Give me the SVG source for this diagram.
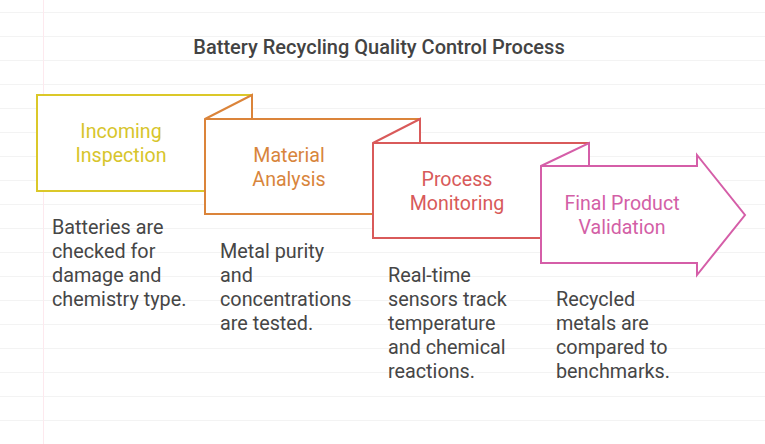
<svg xmlns="http://www.w3.org/2000/svg" width="765" height="444" viewBox="0 0 765 444">
<style>
.bg{stroke:#f3f3f3;stroke-width:1}
.shape{fill:#ffffff;stroke-width:2;stroke-linejoin:miter}
.lbl{font-family:Roboto,"Liberation Sans",sans-serif;font-size:19.6px;text-anchor:middle}
.desc{font-family:Roboto,"Liberation Sans",sans-serif;font-size:19.8px;fill:#464646}
.title{font-family:Roboto,"Liberation Sans",sans-serif;font-size:20px;font-weight:500;fill:#434343;text-anchor:middle}
</style>
<rect x="0" y="0" width="765" height="444" fill="#ffffff"/>
<g id="background">
<line class="bg" x1="0" y1="12.5" x2="765" y2="12.5"/>
<line class="bg" x1="0" y1="36.5" x2="765" y2="36.5"/>
<line class="bg" x1="0" y1="60.5" x2="765" y2="60.5"/>
<line class="bg" x1="0" y1="84.5" x2="765" y2="84.5"/>
<line class="bg" x1="0" y1="108.5" x2="765" y2="108.5"/>
<line class="bg" x1="0" y1="132.5" x2="765" y2="132.5"/>
<line class="bg" x1="0" y1="156.5" x2="765" y2="156.5"/>
<line class="bg" x1="0" y1="180.5" x2="765" y2="180.5"/>
<line class="bg" x1="0" y1="204.5" x2="765" y2="204.5"/>
<line class="bg" x1="0" y1="228.5" x2="765" y2="228.5"/>
<line class="bg" x1="0" y1="252.5" x2="765" y2="252.5"/>
<line class="bg" x1="0" y1="276.5" x2="765" y2="276.5"/>
<line class="bg" x1="0" y1="300.5" x2="765" y2="300.5"/>
<line class="bg" x1="0" y1="324.5" x2="765" y2="324.5"/>
<line class="bg" x1="0" y1="348.5" x2="765" y2="348.5"/>
<line class="bg" x1="0" y1="372.5" x2="765" y2="372.5"/>
<line class="bg" x1="0" y1="396.5" x2="765" y2="396.5"/>
<line class="bg" x1="0" y1="420.5" x2="765" y2="420.5"/>
<line x1="43.5" y1="0" x2="43.5" y2="444" stroke="#fde9ee" stroke-width="1"/>
</g>
<text class="title" x="379" y="54">Battery Recycling Quality Control Process</text>
<g id="connectors"></g>
<g id="step1">
<rect class="shape" x="37" y="95" width="215" height="96" stroke="#dbc829"/>
<text class="lbl" fill="#d7c52c"><tspan x="121" y="138">Incoming</tspan><tspan x="121" y="162">Inspection</tspan></text>
<text class="desc"><tspan x="52" y="234">Batteries are</tspan><tspan x="52" y="258">checked for</tspan><tspan x="52" y="282">damage and</tspan><tspan x="52" y="306">chemistry type.</tspan></text>
</g>
<g id="step2">
<path class="shape" d="M205,119 L252,95 L252,119 L420,119 L420,214 L205,214 Z" stroke="#db843a"/>
<line x1="205" y1="119" x2="252" y2="119" stroke="#db843a" stroke-width="2"/>
<text class="lbl" fill="#d8853c"><tspan x="289" y="162">Material</tspan><tspan x="289" y="186">Analysis</tspan></text>
<text class="desc"><tspan x="220" y="258">Metal purity</tspan><tspan x="220" y="282">and</tspan><tspan x="220" y="306">concentrations</tspan><tspan x="220" y="330">are tested.</tspan></text>
</g>
<g id="step3">
<path class="shape" d="M373,143 L420,119 L420,143 L589,143 L589,238 L373,238 Z" stroke="#d95a5a"/>
<line x1="373" y1="143" x2="420" y2="143" stroke="#d95a5a" stroke-width="2"/>
<text class="lbl" fill="#d85a5a"><tspan x="457" y="186">Process</tspan><tspan x="457" y="210">Monitoring</tspan></text>
<text class="desc"><tspan x="388" y="282">Real-time</tspan><tspan x="388" y="306">sensors track</tspan><tspan x="388" y="330">temperature</tspan><tspan x="388" y="354">and chemical</tspan><tspan x="388" y="378">reactions.</tspan></text>
</g>
<g id="step4">
<path class="shape" d="M541,166 L589,143 L589,166 L697,166 L697,155 L745,215 L697,275 L697,263 L541,263 Z" stroke="#d55ea8"/>
<line x1="541" y1="166" x2="589" y2="166" stroke="#d55ea8" stroke-width="2"/>
<text class="lbl" fill="#d35fa6"><tspan x="622" y="210">Final Product</tspan><tspan x="622" y="234">Validation</tspan></text>
<text class="desc"><tspan x="556" y="306">Recycled</tspan><tspan x="556" y="330">metals are</tspan><tspan x="556" y="354">compared to</tspan><tspan x="556" y="378">benchmarks.</tspan></text>
</g>
</svg>
